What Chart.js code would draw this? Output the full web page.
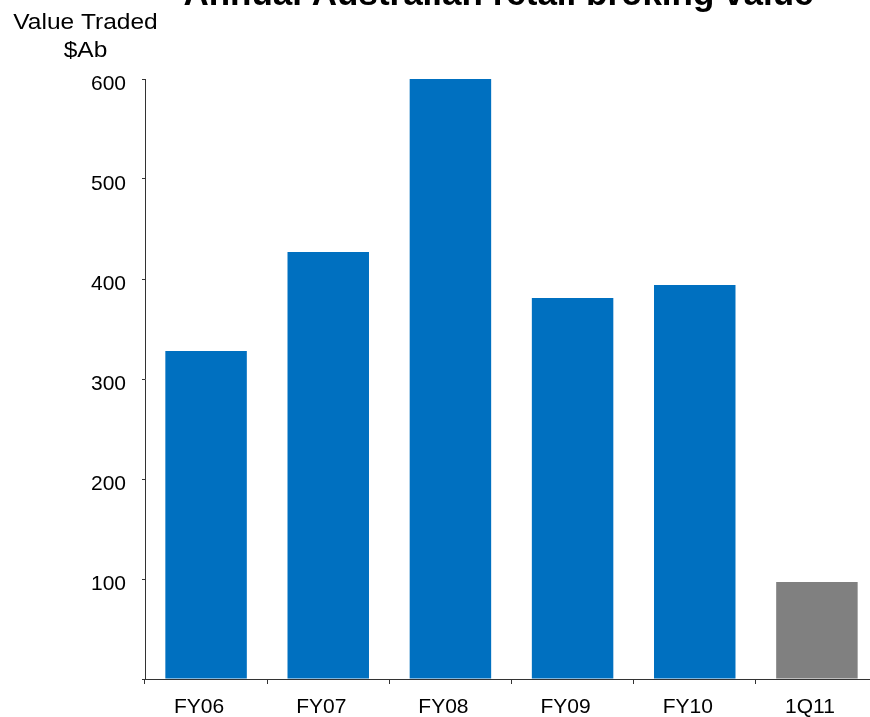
<!DOCTYPE html>
<html>
<head>
<meta charset="utf-8">
<script src="https://cdn.jsdelivr.net/npm/chart.js@4"></script>
<style>
  html, body { margin: 0; padding: 0; background: #fff; overflow: hidden; width: 870px; height: 717px; }
  #c { position: absolute; left: 0; top: 0; }
</style>
</head>
<body>
<canvas id="c" width="900" height="717"></canvas>
<script>
const categories = ['FY06', 'FY07', 'FY08', 'FY09', 'FY10', '1Q11'];
const values = [328, 427, 600, 381, 394, 97];
const barColors = ['#0070C0', '#0070C0', '#0070C0', '#0070C0', '#0070C0', '#808080'];
const yTicks = [0, 100, 200, 300, 400, 500, 600];
const chartTitle = 'Annual Australian retail broking value';
const yTitleLines = ['Value Traded', '$Ab'];

const FONT = '"Liberation Sans", Arial, sans-serif';

const textPlugin = {
  id: 'texts',
  afterDraw(chart) {
    const ctx = chart.ctx;
    ctx.save();
    ctx.fillStyle = '#000';
    ctx.textAlign = 'center';
    ctx.textBaseline = 'alphabetic';
    // chart title (clipped at the top edge, as in the reference)
    ctx.font = 'bold 35px ' + FONT;
    ctx.fillText(chartTitle, 498.5, 5.3);
    // y-axis title
    ctx.font = '21.5px ' + FONT;
    const sx = 1.14;
    ctx.scale(sx, 1);
    const cx = 85.5 / sx;
    ctx.fillText(yTitleLines[0], cx, 28.7);
    ctx.fillText(yTitleLines[1], cx, 56.7);
    ctx.restore();
  }
};

new Chart(document.getElementById('c'), {
  type: 'bar',
  data: {
    labels: categories,
    datasets: [{
      data: values,
      backgroundColor: barColors,
      borderWidth: 0,
      categoryPercentage: 1,
      barPercentage: 0.667
    }]
  },
  options: {
    responsive: false,
    animation: false,
    devicePixelRatio: 1,
    layout: { padding: { left: 0, right: 22, top: 79, bottom: 0 } },
    plugins: {
      legend: { display: false },
      tooltip: { enabled: false },
      title: { display: false }
    },
    scales: {
      x: {
        type: 'category',
        offset: true,
        grid: { display: true, offset: true, drawOnChartArea: false, drawTicks: true, tickLength: 5, color: '#333' },
        border: { display: true, color: '#333', width: 1 },
        ticks: { color: '#000', font: { family: FONT, size: 21 }, padding: 11, labelOffset: -7, maxRotation: 0, autoSkip: false },
        afterFit(scale) { scale.height = 717 - 679; }
      },
      y: {
        min: 0,
        max: 600,
        afterBuildTicks(scale) { scale.ticks = yTicks.map(v => ({ value: v })); },
        grid: { display: true, drawOnChartArea: false, drawTicks: true, tickLength: 3, color: '#333' },
        border: { display: true, color: '#333', width: 1 },
        ticks: {
          color: '#000',
          font: { family: FONT, size: 21 },
          padding: 16,
          labelOffset: 5,
          callback: (v) => v === 0 ? '' : String(v)
        },
        afterFit(scale) { scale.width = 145; }
      }
    }
  },
  plugins: [textPlugin]
});
</script>
</body>
</html>
